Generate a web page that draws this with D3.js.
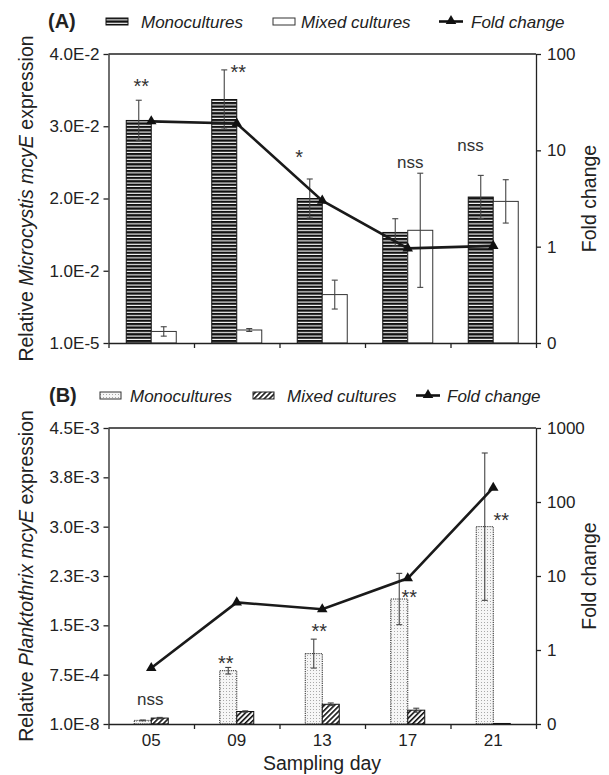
<!DOCTYPE html>
<html><head><meta charset="utf-8">
<script src="https://cdn.jsdelivr.net/npm/d3@7"></script>
<style>
body{margin:0;background:#fff;}
svg text{font-family:"Liberation Sans",Arial,Helvetica,sans-serif;fill:#222;}
</style></head><body>
<svg id="chart" width="609" height="775"></svg>
<script>
// ---------- data ----------
const days = ["05","09","13","17","21"];
// Panel A (Microcystis)
const monoA     = [0.0308, 0.0337, 0.0200, 0.0153, 0.0202];
const monoAErr  = [0.0028, 0.0041, 0.0027, 0.0019, 0.0030];
const mixedA    = [0.0016, 0.0018, 0.0067, 0.0156, 0.0196];
const mixedAErr = [0.00065, 0.0002, 0.0020, 0.0079, 0.0030];
const foldA     = [20, 19, 3.0, 0.96, 1.02];
const sigA      = ["**","**","*","nss","nss"];
const sigALevel = [0.0349, 0.0368, 0.0251, 0.0242, 0.0266];
const yTicksA   = [0, 0.01, 0.02, 0.03, 0.04];
const yLabelsA  = ["1.0E-5","1.0E-2","2.0E-2","3.0E-2","4.0E-2"];
const foldTicksA = [0.1, 1, 10, 100];
const foldLabelsA = ["0","1","10","100"];
// Panel B (Planktothrix)
const monoB     = [0.000055, 0.00081, 0.00107, 0.0019, 0.0030];
const monoBErr  = [0.000006, 0.00005, 0.00022, 0.00039, 0.00112];
const mixedB    = [0.00009, 0.00019, 0.00030, 0.00021, 0.000008];
const mixedBErr = [0.00001, 0.00001, 0.00002, 0.00003, 0];
const foldB     = [0.57, 4.4, 3.55, 9.3, 156];
const sigB      = ["nss","**","**","**","**"];
const sigBLevel = [0.000289, 0.000851, 0.001338, 0.001855, 0.003025];
const yTicksB   = [0, 0.00075, 0.0015, 0.00225, 0.003, 0.00375, 0.0045];
const yLabelsB  = ["1.0E-8","7.5E-4","1.5E-3","2.3E-3","3.0E-3","3.8E-3","4.5E-3"];
const foldTicksB = [0.1, 1, 10, 100, 1000];
const foldLabelsB = ["0","1","10","100","1000"];

// ---------- drawing ----------
const svg = d3.select("#chart");
const defs = svg.append("defs");
const FONT = '"Liberation Sans",Arial,Helvetica,sans-serif';

const pS = defs.append("pattern").attr("id","stripes").attr("patternUnits","userSpaceOnUse")
  .attr("width",8).attr("height",3.4);
pS.append("rect").attr("width",8).attr("height",3.4).attr("fill","#111");
pS.append("rect").attr("y",2.3).attr("width",8).attr("height",1.1).attr("fill","#fff");

const pD = defs.append("pattern").attr("id","dots").attr("patternUnits","userSpaceOnUse")
  .attr("width",3).attr("height",3);
pD.append("rect").attr("width",3).attr("height",3).attr("fill","#f6f6f6");
pD.append("rect").attr("x",1).attr("y",1).attr("width",1).attr("height",1).attr("fill","#a8a8a8");

const pH = defs.append("pattern").attr("id","hatch").attr("patternUnits","userSpaceOnUse")
  .attr("width",3.6).attr("height",3.6).attr("patternTransform","rotate(45)");
pH.append("rect").attr("width",3.6).attr("height",3.6).attr("fill","#fff");
pH.append("line").attr("x1",0.8).attr("y1",0).attr("x2",0.8).attr("y2",3.6)
  .attr("stroke","#111").attr("stroke-width",1.6);

const tri = d3.symbol(d3.symbolTriangle, 48);

function panel(c){
  const g = svg.append("g");
  const x = d3.scaleBand(days, [c.left, c.right]);
  const xi = d3.scaleLinear([0, days.length], [c.left, c.right]);
  const y = d3.scaleLinear(c.yDomain, [c.bottom, c.top]);
  const yf = d3.scaleLog(c.foldDomain, [c.bottom, c.top]);
  const cx = d => x(d) + x.bandwidth()/2;
  const bw = c.barW;

  const mono = days.map((d,i)=>({d, v:c.mono[i], e:c.monoErr[i]}));
  const mixed = days.map((d,i)=>({d, v:c.mixed[i], e:c.mixedErr[i]}));
  g.selectAll(".mono").data(mono).join("rect")
    .attr("x", o=>cx(o.d)-bw).attr("width", bw)
    .attr("y", o=>y(o.v)).attr("height", o=>y(0)-y(o.v))
    .attr("fill", c.monoFill).attr("stroke", c.monoStroke).attr("stroke-width",1)
    .attr("stroke-dasharray", c.monoDash || null);
  g.selectAll(".mixed").data(mixed).join("rect")
    .attr("x", o=>cx(o.d)).attr("width", bw)
    .attr("y", o=>y(o.v)).attr("height", o=>Math.max(0.8, y(0)-y(o.v)))
    .attr("fill", c.mixedFill).attr("stroke", c.mixedStroke).attr("stroke-width",1);

  const errs = [...mono.map(o=>({...o, xc: cx(o.d)-bw/2})), ...mixed.map(o=>({...o, xc: cx(o.d)+bw/2}))]
    .filter(o=>o.e>0);
  const eg = g.append("g").attr("stroke","#444").attr("stroke-width",1.1).attr("fill","none");
  errs.forEach(o=>{
    const y1 = y(o.v+o.e), y2 = y(o.v-o.e);
    eg.append("line").attr("x1",o.xc).attr("x2",o.xc).attr("y1",y1).attr("y2",y2);
    eg.append("line").attr("x1",o.xc-3).attr("x2",o.xc+3).attr("y1",y1).attr("y2",y1);
    eg.append("line").attr("x1",o.xc-3).attr("x2",o.xc+3).attr("y1",y2).attr("y2",y2);
  });

  g.append("path").datum(days.map((d,i)=>[cx(d), yf(c.fold[i])]))
    .attr("d", d3.line()).attr("fill","none").attr("stroke","#1a1a1a").attr("stroke-width",2.6);
  g.selectAll(".tri").data(days).join("path")
    .attr("d", tri).attr("transform",(d,i)=>`translate(${cx(d)},${yf(c.fold[i])})`)
    .attr("fill","#111");

  g.selectAll(".sig").data(days).join("text")
    .attr("x",(d,i)=>cx(d)+c.sigDx[i]).attr("y",(d,i)=>y(c.sigLevel[i]) + (c.sig[i]==="nss"?0:2))
    .attr("text-anchor","middle").attr("font-size",(d,i)=>c.sig[i]==="nss"?17:20).style("fill","#333")
    .text((d,i)=>c.sig[i]);

  const style = sel => { sel.selectAll("path,line").attr("stroke","#222").attr("stroke-width",1.3);
    sel.selectAll("text").attr("font-size",17).attr("font-family",FONT).style("fill","#222"); sel.attr("font-family",FONT); };
  g.append("g").attr("transform",`translate(${c.left},0)`)
    .call(d3.axisLeft(y).tickValues(c.yTicks).tickFormat((d,i)=>c.yLabels[i]).tickSize(5).tickPadding(4).tickSizeOuter(0))
    .call(style);
  g.append("g").attr("transform",`translate(${c.right},0)`)
    .call(d3.axisRight(yf).tickValues(c.foldTicks).tickFormat((d,i)=>c.foldLabels[i]).tickSize(5).tickPadding(6).tickSizeOuter(0))
    .call(style);
  g.append("g").attr("transform",`translate(0,${c.bottom})`)
    .call(d3.axisBottom(xi).tickValues(d3.range(days.length+1)).tickFormat("").tickSize(5).tickSizeOuter(0))
    .call(style);
  if (c.xLabels){
    g.append("g").attr("transform",`translate(0,${c.bottom})`)
      .call(d3.axisBottom(x).tickSize(0).tickPadding(10))
      .call(style).call(s=>s.select(".domain").remove());
  }
  g.append("line").attr("x1",c.left).attr("x2",c.right).attr("y1",c.top).attr("y2",c.top)
    .attr("stroke","#222").attr("stroke-width",1.3);

  const cy = (c.top+c.bottom)/2;
  const lt = g.append("text").attr("transform",`translate(33,${cy}) rotate(-90)`)
    .attr("text-anchor","middle").attr("font-size",19.5);
  lt.append("tspan").text("Relative ");
  lt.append("tspan").attr("font-style","italic").text(c.genus);
  lt.append("tspan").text(" ");
  lt.append("tspan").attr("font-style","italic").text("mcyE");
  lt.append("tspan").text(" expression");
  g.append("text").attr("transform",`translate(596,${cy}) rotate(-90)`)
    .attr("text-anchor","middle").attr("font-size",19.5).text("Fold change");
  return g;
}

panel({left:108.5, right:536, top:54, bottom:343, yDomain:[0,0.04], yTicks:yTicksA, yLabels:yLabelsA,
  foldDomain:[0.1,100], foldTicks:foldTicksA, foldLabels:foldLabelsA,
  mono:monoA, monoErr:monoAErr, mixed:mixedA, mixedErr:mixedAErr, fold:foldA,
  sig:sigA, sigLevel:sigALevel, sigDx:[-10,1.5,-23,2.6,-22.8],
  barW:25, monoFill:"url(#stripes)", monoStroke:"#111", mixedFill:"#fff", mixedStroke:"#333",
  genus:"Microcystis", xLabels:false});

panel({left:108.5, right:536, top:428, bottom:724, yDomain:[0,0.0045], yTicks:yTicksB, yLabels:yLabelsB,
  foldDomain:[0.1,1000], foldTicks:foldTicksB, foldLabels:foldLabelsB,
  mono:monoB, monoErr:monoBErr, mixed:mixedB, mixedErr:mixedBErr, fold:foldB,
  sig:sigB, sigLevel:sigBLevel, sigDx:[-1,-11,-3,1.6,8],
  barW:17, monoFill:"url(#dots)", monoStroke:"#222", monoDash:"1.2,1", mixedFill:"url(#hatch)", mixedStroke:"#111",
  genus:"Planktothrix", xLabels:true});

svg.append("text").attr("x",322).attr("y",770).attr("text-anchor","middle").attr("font-size",19.5).text("Sampling day");

function legend(cfg){
  const g = svg.append("g");
  g.append("text").attr("x",cfg.lx).attr("y",cfg.base).attr("font-size",20).attr("font-weight","bold").text(cfg.label);
  g.append("rect").attr("x",cfg.s1).attr("y",cfg.base-10).attr("width",cfg.sw).attr("height",7)
    .attr("fill",cfg.f1).attr("stroke",cfg.st1).attr("stroke-width",1);
  g.append("text").attr("x",cfg.t1).attr("y",cfg.base).attr("font-size",17).attr("font-style","italic").text("Monocultures");
  g.append("rect").attr("x",cfg.s2).attr("y",cfg.base-10).attr("width",cfg.sw).attr("height",7)
    .attr("fill",cfg.f2).attr("stroke",cfg.st2).attr("stroke-width",1);
  g.append("text").attr("x",cfg.t2).attr("y",cfg.base).attr("font-size",17).attr("font-style","italic").text("Mixed cultures");
  g.append("line").attr("x1",cfg.s3).attr("x2",cfg.s3+24).attr("y1",cfg.base-6.5).attr("y2",cfg.base-6.5)
    .attr("stroke","#111").attr("stroke-width",2.6);
  g.append("path").attr("d",tri).attr("transform",`translate(${cfg.s3+12},${cfg.base-7})`).attr("fill","#111");
  g.append("text").attr("x",cfg.t3).attr("y",cfg.base).attr("font-size",17).attr("font-style","italic").text("Fold change");
}
legend({label:"(A)", lx:48, base:28, sw:22, s1:106, t1:141, s2:273, t2:301, s3:439, t3:471,
  f1:"url(#stripes)", st1:"#111", f2:"#fff", st2:"#333"});
legend({label:"(B)", lx:49, base:402, sw:21, s1:100, t1:130, s2:253, t2:287, s3:416, t3:447,
  f1:"url(#dots)", st1:"#333", f2:"url(#hatch)", st2:"#222"});
</script>
</body></html>
